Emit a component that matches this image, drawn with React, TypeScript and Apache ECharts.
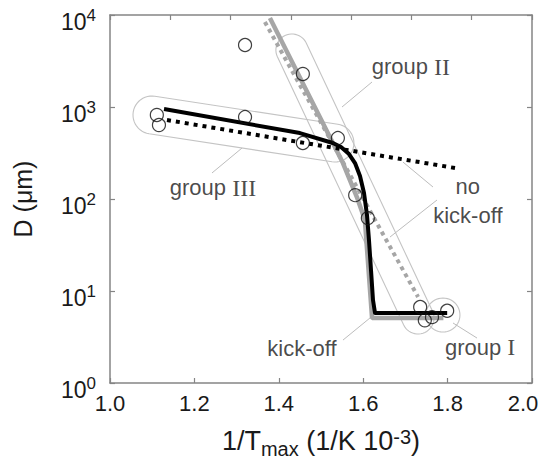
import React, { useEffect, useRef } from "react";
import * as echarts from "echarts";

// Observed data points (open circles)
const obsX = [1.111, 1.116, 1.32, 1.32, 1.457, 1.457, 1.54, 1.581, 1.611, 1.735, 1.746, 1.763, 1.799];
const obsD = [819, 637, 4720, 778, 2285, 406, 460, 110, 62, 6.7, 4.8, 5.2, 6.1];

// Black solid fit (with kick-off)
const kickX = [1.128, 1.45, 1.528, 1.5474, 1.5664, 1.5806, 1.5924, 1.6019, 1.609, 1.6137, 1.6185, 1.6232, 1.628, 1.799];
const kickD = [951, 521, 406, 367, 308, 246, 178, 116, 67, 35.8, 16.9, 7.98, 5.77, 5.77];

// Black dotted fit (no kick-off, group III)
const noKickIIIX = [1.135, 1.818];
const noKickIIID = [722, 217];

// Gray solid fit (group II with kick-off)
const grayKickX = [1.379, 1.552, 1.585, 1.604, 1.621, 1.79];
const grayKickD = [9270, 246, 105, 59, 5.09, 5.09];

// Gray dotted fit (group II no kick-off)
const grayNoKickX = [1.367, 1.73];
const grayNoKickD = [8390, 8.6];

// Group outlines: capsule end centres (data coordinates)
const outlineX1 = [1.0995, 1.431, 1.789];
const outlineD1 = [819, 4165, 5.48];
const outlineX2 = [1.533, 1.73, 1.789];
const outlineD2 = [406, 5.09, 5.48];

// Annotation texts and leader lines
const noteText = ["group III", "group II", "no\nkick-off", "kick-off", "group I"];
const noteX = [1.244, 1.713, 1.848, 1.455, 1.877];
const noteD = [132, 2722, 95, 2.4, 2.46];

const leadX1 = [1.2417, 1.5498, 1.6943, 1.6635, 1.5521, 1.8128];
const leadD1 = [191.8, 1000, 252, 38.6, 2.93, 4.49];
const leadX2 = [1.3128, 1.6209, 1.7654, 1.7749, 1.6161, 1.8697];
const leadD2 = [358, 1870, 135, 97.5, 5.09, 3.08];

const xTickLabels = ["1.0", "1.2", "1.4", "1.6", "1.8", "2.0"];

const OUTLINE_R = [19, 16, 17];
const SANS = "Liberation Sans";
const SERIF = "Liberation Serif";
const TEXT = "#1a1a1a";

function zip(xs: number[], ys: number[]) {
  return xs.map((x, i) => [x, ys[i]]);
}

function richNote(t: string) {
  const m = t.match(/^(group )(I+)$/);
  if (m) return `{a|${m[1]}}{r|${m[2]}}`;
  return t
    .split("\n")
    .map((l) => `{a|${l}}`)
    .join("\n");
}

export default function App() {
  const ref = useRef<HTMLDivElement>(null);
  useEffect(() => {
    document.body.style.margin = "0";
    const chart = echarts.init(ref.current!, null, { renderer: "svg" });
    const axisColor = "#858585";

    const leaderSeries = leadX1.map((x, i) => ({
      type: "line",
      data: [
        [x, leadD1[i]],
        [leadX2[i], leadD2[i]],
      ],
      symbol: "none",
      lineStyle: { color: "#bdbdbd", width: 1 },
      z: 1,
      silent: true,
    }));

    const option: any = {
      animation: false,
      grid: { left: 110, right: 10, top: 15, bottom: 83, outerBoundsMode: "none", containLabel: false },
      xAxis: [
        {
          type: "value",
          min: 1,
          max: 2,
          interval: 0.2,
          position: "bottom",
          axisLine: { show: true, onZero: false, lineStyle: { color: axisColor, width: 1.5 } },
          axisTick: { show: true, inside: true, length: 5, lineStyle: { color: axisColor, width: 1.2 } },
          axisLabel: {
            fontSize: 22,
            color: TEXT,
            margin: 9,
            fontFamily: SANS,
            formatter: (v: number) => {
              const i = Math.round((v - 1) / 0.2);
              const t = xTickLabels[i] ?? v.toFixed(1);
              return i === xTickLabels.length - 1 ? `{e|${t}}` : t;
            },
            rich: {
              e: { fontSize: 22, fontFamily: SANS, color: TEXT, padding: [0, 18, 0, 0] },
            },
          },
          splitLine: { show: false },
          name: "{m|1/T}{sub|max}{m| (1/K 10}{sup|-3}{m|)}",
          nameLocation: "middle",
          nameGap: 44,
          nameTextStyle: {
            color: TEXT,
            rich: {
              m: { fontSize: 27, fontFamily: SANS, color: TEXT, lineHeight: 32, verticalAlign: "top" },
              sub: { fontSize: 20, fontFamily: SANS, color: TEXT, lineHeight: 20, padding: [18, 0, 0, 0], verticalAlign: "bottom" },
              sup: { fontSize: 20, fontFamily: SANS, color: TEXT, lineHeight: 21, verticalAlign: "top" },
            },
          },
        },
        {
          type: "value",
          min: 0,
          max: 7,
          interval: 1,
          position: "top",
          axisLine: { show: true, onZero: false, lineStyle: { color: axisColor, width: 1.5 } },
          axisTick: { show: true, inside: true, length: 5, lineStyle: { color: axisColor, width: 1.2 } },
          axisLabel: { show: false },
          splitLine: { show: false },
        },
      ],
      yAxis: [
        {
          type: "log",
          logBase: 10,
          min: 1,
          max: 10000,
          position: "left",
          axisLine: { show: true, onZero: false, lineStyle: { color: axisColor, width: 1.5 } },
          axisTick: { show: true, inside: true, length: 5, lineStyle: { color: axisColor, width: 1.2 } },
          axisLabel: {
            margin: 14,
            padding: [10, 0, 0, 0],
            formatter: (v: number) => `{b|10}{s|${Math.round(Math.log10(v))}}`,
            rich: {
              b: { fontSize: 23, fontFamily: SANS, color: TEXT, lineHeight: 27, verticalAlign: "bottom" },
              s: { fontSize: 17, fontFamily: SANS, color: TEXT, lineHeight: 16, verticalAlign: "top" },
            },
          },
          splitLine: { show: false },
          name: "D (μm)",
          nameLocation: "middle",
          nameGap: 75,
          nameTextStyle: { fontSize: 25, fontFamily: SANS, color: TEXT },
        },
        {
          type: "log",
          logBase: 10,
          min: 1,
          max: 10000,
          position: "right",
          axisLine: { show: true, onZero: false, lineStyle: { color: axisColor, width: 1.5 } },
          axisTick: { show: true, inside: true, length: 5, lineStyle: { color: axisColor, width: 1.2 } },
          axisLabel: { show: false },
          splitLine: { show: false },
        },
      ],
      series: [
        {
          type: "custom",
          xAxisIndex: 0,
          yAxisIndex: 0,
          silent: true,
          z: 1,
          data: outlineX1.map((x, i) => [x, outlineD1[i], outlineX2[i], outlineD2[i]]),
          encode: { x: [0, 2], y: [1, 3] },
          renderItem: (params: any, api: any) => {
            const p1 = api.coord([api.value(0), api.value(1)]);
            const p2 = api.coord([api.value(2), api.value(3)]);
            const r = OUTLINE_R[params.dataIndex];
            const a = Math.atan2(p2[1] - p1[1], p2[0] - p1[0]);
            const pts: number[][] = [];
            const n = 24;
            for (let k = 0; k <= n; k++) {
              const t = a - Math.PI / 2 + (Math.PI * k) / n;
              pts.push([p2[0] + r * Math.cos(t), p2[1] + r * Math.sin(t)]);
            }
            for (let k = 0; k <= n; k++) {
              const t = a + Math.PI / 2 + (Math.PI * k) / n;
              pts.push([p1[0] + r * Math.cos(t), p1[1] + r * Math.sin(t)]);
            }
            return {
              type: "polygon",
              shape: { points: pts },
              style: { fill: "none", stroke: "#c4c4c4", lineWidth: 1.1 },
            };
          },
        },
        ...leaderSeries,
        {
          type: "line",
          data: zip(grayNoKickX, grayNoKickD),
          symbol: "none",
          lineStyle: { color: "#a6a6a6", width: 4, type: [4, 4], cap: "butt" },
          z: 2,
        },
        {
          type: "line",
          data: zip(grayKickX, grayKickD),
          symbol: "none",
          lineStyle: { color: "#a6a6a6", width: 4.5 },
          z: 3,
        },
        {
          type: "line",
          data: zip(noKickIIIX, noKickIIID),
          symbol: "none",
          lineStyle: { color: "#000", width: 4, type: [4, 5], cap: "butt" },
          z: 4,
        },
        {
          type: "line",
          data: zip(kickX, kickD),
          symbol: "none",
          lineStyle: { color: "#000", width: 4, join: "round" },
          z: 5,
        },
        {
          type: "scatter",
          data: zip(obsX, obsD),
          symbol: "circle",
          symbolSize: 13,
          itemStyle: { color: "rgba(255,255,255,0)", borderColor: "#111", borderWidth: 1.2 },
          z: 6,
        },
        {
          type: "scatter",
          data: noteX.map((x, i) => ({
            value: [x, noteD[i]],
            label: { formatter: richNote(noteText[i]) },
          })),
          symbolSize: 0,
          silent: true,
          z: 7,
          label: {
            show: true,
            position: "inside",
            align: "center",
            verticalAlign: "middle",
            lineHeight: 29,
            rich: {
              a: { fontSize: 22, fontFamily: SANS, color: TEXT, lineHeight: 29 },
              r: { fontSize: 24, fontFamily: SERIF, color: TEXT, lineHeight: 29 },
            },
          },
        },
      ],
    };
    chart.setOption(option);
    return () => chart.dispose();
  }, []);
  return <div ref={ref} style={{ width: 542, height: 466 }} />;
}
